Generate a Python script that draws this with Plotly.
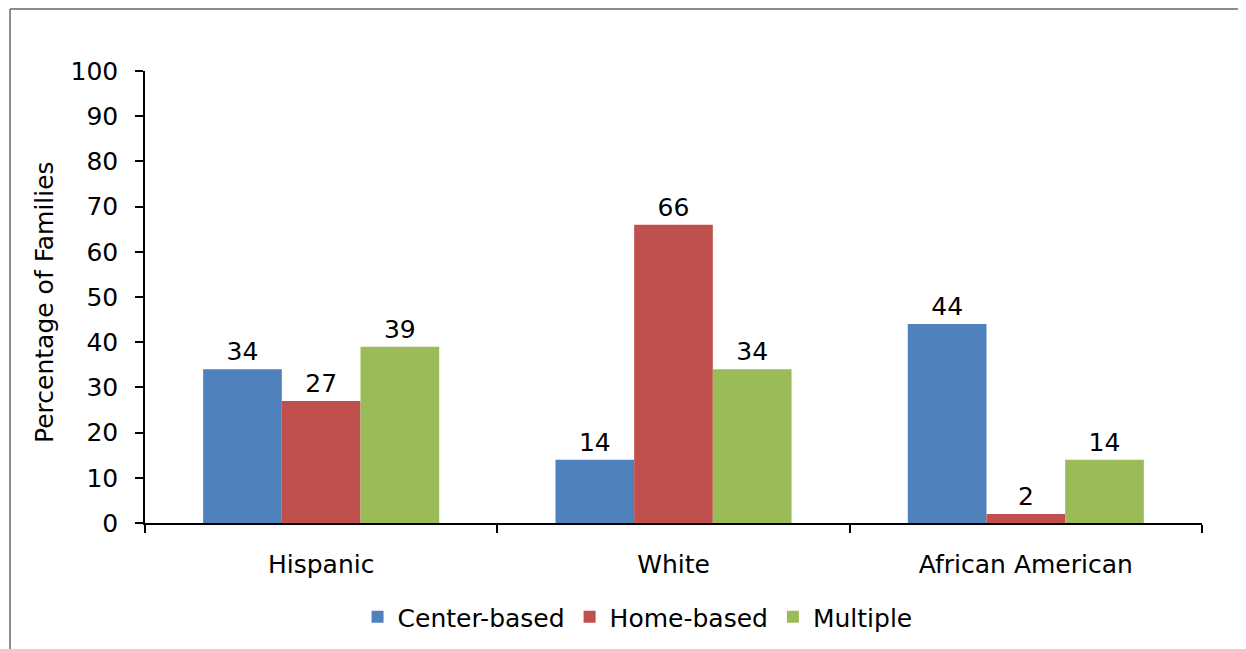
import plotly.graph_objects as go

categories = ["Hispanic", "White", "African American"]
center_based = [34, 14, 44]
home_based = [27, 66, 2]
multiple = [39, 34, 14]
series_names = ["Center-based", "Home-based", "Multiple"]
colors = ["#4F81BD", "#C0504D", "#9BBB59"]

FONT = "DejaVu Sans"
FS = 25
fig = go.Figure()
for name, vals, col in zip(series_names, [center_based, home_based, multiple], colors):
    fig.add_trace(go.Bar(
        name=name, x=categories, y=vals, marker=dict(color=col, line=dict(width=0)),
        text=[str(v) for v in vals], textposition="outside",
        textfont=dict(family=FONT, size=FS, color="black"), cliponaxis=False,
    ))

border = dict(color="#8c8c8c", width=2)
fig.update_layout(
    width=1238, height=641,
    paper_bgcolor="white", plot_bgcolor="white",
    barmode="group", bargap=0.33, bargroupgap=0,
    margin=dict(l=137, r=44, t=63, b=126, autoexpand=False),
    font=dict(family=FONT, size=FS, color="black"),
    showlegend=True,
    legend=dict(orientation="h", x=0.466, xanchor="center", y=-0.208, yanchor="middle",
                font=dict(family=FONT, size=FS), itemwidth=30, traceorder="normal"),
    xaxis=dict(showline=True, linecolor="black", linewidth=2, ticks="outside",
               tickson="boundaries", ticklen=8, tickcolor="black", tickwidth=1.5,
               ticklabelstandoff=18,
               tickfont=dict(family=FONT, size=FS)),
    yaxis=dict(range=[0, 100], dtick=10, showgrid=False, zeroline=False,
               showline=True, linecolor="black", linewidth=1.5, ticks="outside",
               ticklen=8, tickcolor="black", tickwidth=1.5, ticklabelstandoff=12,
               tickfont=dict(family=FONT, size=FS)),
    annotations=[dict(text="Percentage of Families", xref="paper", yref="paper",
                      x=-0.0946, y=0.489, xanchor="center", yanchor="middle",
                      textangle=-90, showarrow=False,
                      font=dict(family=FONT, size=FS, color="black"))],
    shapes=[
        dict(type="line", xref="paper", yref="paper", x0=-0.1277, x1=1.5, y0=1.137, y1=1.137,
             line=border, layer="below"),
        dict(type="line", xref="paper", yref="paper", x0=-0.1277, x1=-0.1277, y0=-1.0, y1=1.137,
             line=border, layer="below"),
    ],
)

fig.write_html("out.html")
